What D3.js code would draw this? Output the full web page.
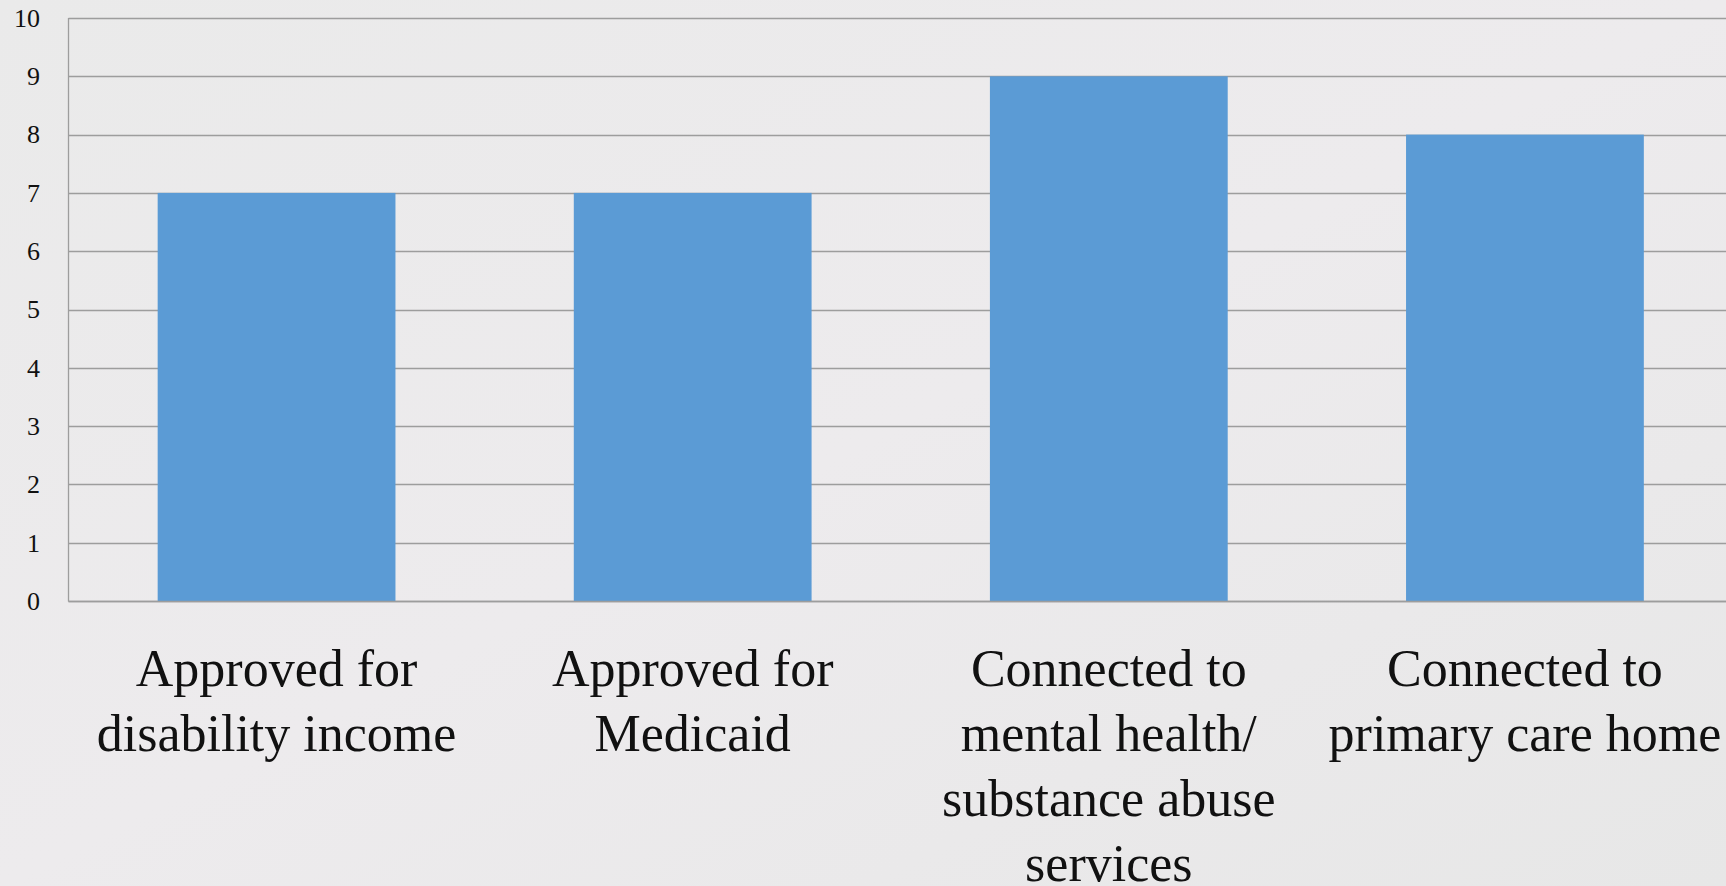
<!DOCTYPE html>
<html>
<head>
<meta charset="utf-8">
<script src="https://cdn.jsdelivr.net/npm/d3@7"></script>
<style>
html,body{margin:0;padding:0;overflow:hidden;}
body{width:1726px;height:886px;}
</style>
</head>
<body>
<svg id="chart" width="1726" height="886"></svg>
<script>
const categories = [
  "Approved for disability income",
  "Approved for Medicaid",
  "Connected to mental health/ substance abuse services",
  "Connected to primary care home"
];
const categoryLines = [
  ["Approved for", "disability income"],
  ["Approved for", "Medicaid"],
  ["Connected to", "mental health/", "substance abuse", "services"],
  ["Connected to", "primary care home"]
];
const values = [7, 7, 9, 8];
const yTicks = [0, 1, 2, 3, 4, 5, 6, 7, 8, 9, 10];

(function () {
const svg = d3.select("#chart");
const W = 1726, H = 886;

const defs = svg.append("defs");
const grad = defs.append("linearGradient").attr("id", "bg").attr("x1", "0").attr("y1", "0").attr("x2", "1").attr("y2", "1");
grad.append("stop").attr("offset", "0").attr("stop-color", "#eaeaea");
grad.append("stop").attr("offset", "0.5").attr("stop-color", "#edebed");
grad.append("stop").attr("offset", "1").attr("stop-color", "#e7e7e7");
svg.append("rect").attr("width", W).attr("height", H).attr("fill", "url(#bg)");

const pL = 68.5, pR = 1733, pT = 18, pB = 601;

const x = d3.scaleBand().domain(categories).range([pL, pR]).paddingInner(0.75 / 1.75).paddingOuter(0.75 / 3.5);
const y = d3.scaleLinear().domain([0, 10]).range([pB, pT]);

// gridlines
svg.append("g").selectAll("line").data(yTicks).join("line")
  .attr("x1", pL).attr("x2", W + 10)
  .attr("y1", d => Math.round(y(d)) + 0.5).attr("y2", d => Math.round(y(d)) + 0.5)
  .attr("stroke", "#9d9d9d").attr("stroke-width", 1.3);

// bars
svg.append("g").selectAll("rect").data(values).join("rect")
  .attr("x", (d, i) => x(categories[i]))
  .attr("width", x.bandwidth())
  .attr("y", d => y(d))
  .attr("height", d => y(0) - y(d))
  .attr("fill", "#5b9bd5");

// axis lines
svg.append("line").attr("x1", pL).attr("x2", pL).attr("y1", pT).attr("y2", pB + 0.5)
  .attr("stroke", "#9d9d9d").attr("stroke-width", 1.3);
svg.append("line").attr("x1", pL).attr("x2", W + 10).attr("y1", Math.round(y(0)) + 0.5).attr("y2", Math.round(y(0)) + 0.5)
  .attr("stroke", "#9d9d9d").attr("stroke-width", 1.3);

// y tick labels
const yAxis = d3.axisLeft(y).tickValues(yTicks).tickSize(0).tickPadding(0).tickFormat(d3.format("d"));
const gy = svg.append("g").attr("transform", `translate(40,0)`).call(yAxis);
gy.select(".domain").remove();
gy.selectAll("text")
  .attr("font-family", "'Liberation Serif', 'DejaVu Serif', serif")
  .attr("font-size", 26).attr("fill", "#111").attr("dy", "0.32em");

// x labels
const labelG = svg.append("g");
categories.forEach((c, i) => {
  const cx = x(c) + x.bandwidth() / 2;
  const t = labelG.append("text")
    .attr("x", cx).attr("y", 686)
    .attr("text-anchor", "middle")
    .attr("font-family", "'Liberation Serif', 'DejaVu Serif', serif")
    .attr("font-size", 52).attr("fill", "#111");
  categoryLines[i].forEach((ln, j) => {
    t.append("tspan").attr("x", cx).attr("y", 686 + j * 65).text(ln);
  });
});
})();
</script>
</body>
</html>
